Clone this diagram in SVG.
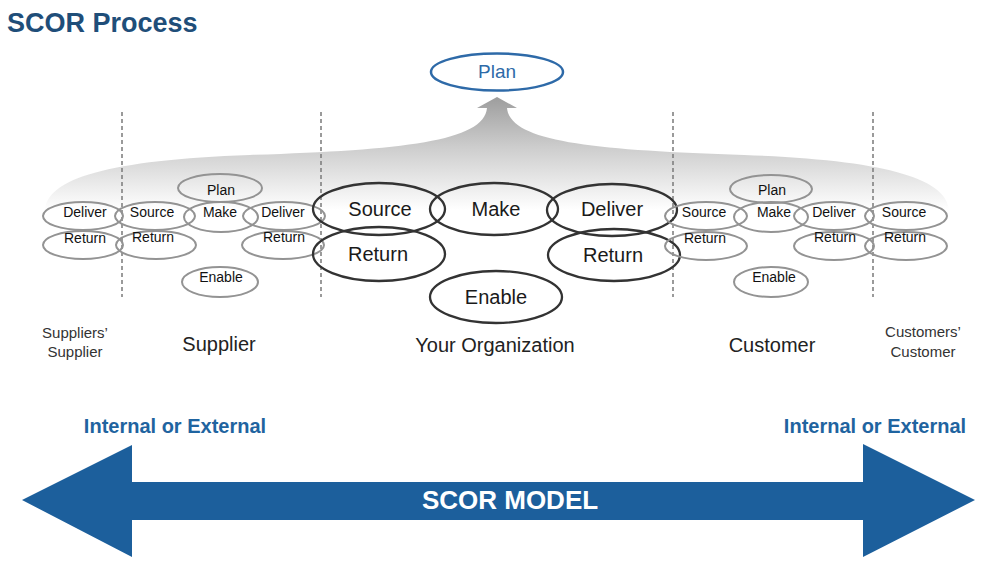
<svg xmlns="http://www.w3.org/2000/svg" width="1000" height="568" viewBox="0 0 1000 568">
<defs>
<linearGradient id="band" x1="0" y1="96" x2="0" y2="210" gradientUnits="userSpaceOnUse">
<stop offset="0" stop-color="#9c9c9c"/>
<stop offset="0.45" stop-color="#cdcdcd"/>
<stop offset="1" stop-color="#ffffff"/>
</linearGradient>
<style>
text{font-family:"Liberation Sans",Arial,sans-serif}
.title{font-size:27px;font-weight:bold;fill:#1f4e79}
.sm{fill:none;stroke:#939393;stroke-width:2}
.big{fill:none;stroke:#333;stroke-width:2.3}
.st{font-size:14px;fill:#111;text-anchor:middle}
.bt{font-size:20px;fill:#1a1a1a;text-anchor:middle}
.lbl{font-size:20px;fill:#222;text-anchor:middle}
.lbls{font-size:15px;fill:#333;text-anchor:middle}
.div{stroke:#7a7a7a;stroke-width:1.5;stroke-dasharray:4 3}
.ie{font-size:20px;font-weight:bold;fill:#1f64a0;text-anchor:middle}
</style>
</defs>
<rect width="1000" height="568" fill="#fff"/>
<text class="title" x="7" y="32">SCOR Process</text>

<g id="connectors">
<path d="M45,212 C45,178 110,160 250,155 C400,150 484,142 487,108 L477,108 L497,97 L517,108 L507,108 C510,142 594,150 744,155 C884,160 949,178 949,212 Z" fill="url(#band)"/>
</g>

<g id="dividers">
<line class="div" x1="122" y1="112" x2="122" y2="297"/>
<line class="div" x1="321" y1="112" x2="321" y2="297"/>
<line class="div" x1="673" y1="112" x2="673" y2="297"/>
<line class="div" x1="873" y1="112" x2="873" y2="297"/>
</g>

<g id="plan-top">
<ellipse cx="497" cy="72" rx="66" ry="18.5" fill="#fff" stroke="#2e6aa8" stroke-width="2.5"/>
<text x="497" y="78" font-size="19" fill="#2e6aa8" text-anchor="middle">Plan</text>
</g>

<g id="suppliers-supplier">
<ellipse class="sm" cx="83" cy="216" rx="40" ry="14"/>
<text class="st" x="85" y="217">Deliver</text>
<ellipse class="sm" cx="83" cy="245" rx="40" ry="14"/>
<text class="st" x="85" y="243">Return</text>
<text class="lbls" x="75" y="338">Suppliers’</text>
<text class="lbls" x="75" y="357">Supplier</text>
</g>

<g id="supplier">
<ellipse class="sm" cx="220" cy="188" rx="42" ry="14"/>
<text class="st" x="221" y="195">Plan</text>
<ellipse class="sm" cx="155" cy="216" rx="40" ry="14"/>
<text class="st" x="152" y="217">Source</text>
<ellipse class="sm" cx="156" cy="245" rx="40" ry="14"/>
<text class="st" x="153" y="242">Return</text>
<ellipse class="sm" cx="221" cy="217" rx="37" ry="15"/>
<text class="st" x="220" y="217">Make</text>
<ellipse class="sm" cx="284" cy="216" rx="41" ry="14"/>
<text class="st" x="283" y="217">Deliver</text>
<ellipse class="sm" cx="283" cy="245" rx="41" ry="14"/>
<text class="st" x="284" y="242">Return</text>
<ellipse class="sm" cx="220" cy="282" rx="38" ry="15"/>
<text class="st" x="221" y="282">Enable</text>
<text class="lbl" x="219" y="351">Supplier</text>
</g>

<g id="your-organization">
<ellipse class="big" cx="379" cy="209" rx="66" ry="26"/>
<text class="bt" x="380" y="216">Source</text>
<ellipse class="big" cx="494" cy="209" rx="64" ry="26"/>
<text class="bt" x="496" y="216">Make</text>
<ellipse class="big" cx="612" cy="210" rx="65" ry="26"/>
<text class="bt" x="612" y="216">Deliver</text>
<ellipse class="big" cx="379" cy="254" rx="66" ry="27"/>
<text class="bt" x="378" y="261">Return</text>
<ellipse class="big" cx="614" cy="255" rx="66" ry="26"/>
<text class="bt" x="613" y="262">Return</text>
<ellipse class="big" cx="496" cy="297" rx="66" ry="26"/>
<text class="bt" x="496" y="304">Enable</text>
<text class="lbl" x="495" y="352">Your Organization</text>
</g>

<g id="customer">
<ellipse class="sm" cx="771" cy="189" rx="41" ry="14"/>
<text class="st" x="772" y="195">Plan</text>
<ellipse class="sm" cx="706" cy="216" rx="41" ry="14"/>
<text class="st" x="704" y="217">Source</text>
<ellipse class="sm" cx="706" cy="246" rx="41" ry="14"/>
<text class="st" x="705" y="243">Return</text>
<ellipse class="sm" cx="771" cy="217" rx="37" ry="15"/>
<text class="st" x="774" y="217">Make</text>
<ellipse class="sm" cx="834" cy="216" rx="40" ry="14"/>
<text class="st" x="834" y="217">Deliver</text>
<ellipse class="sm" cx="834" cy="246" rx="40" ry="14"/>
<text class="st" x="835" y="242">Return</text>
<ellipse class="sm" cx="771" cy="282" rx="37" ry="15"/>
<text class="st" x="774" y="282">Enable</text>
<text class="lbl" x="772" y="352">Customer</text>
</g>

<g id="customers-customer">
<ellipse class="sm" cx="906" cy="216" rx="41" ry="14"/>
<text class="st" x="904" y="217">Source</text>
<ellipse class="sm" cx="906" cy="246" rx="41" ry="14"/>
<text class="st" x="905" y="242">Return</text>
<text class="lbls" x="923" y="337">Customers’</text>
<text class="lbls" x="923" y="357">Customer</text>
</g>

<g id="scor-model">
<text class="ie" x="175" y="433">Internal or External</text>
<text class="ie" x="875" y="433">Internal or External</text>
<path d="M22,500 L132,445 L132,482 L863,482 L863,444 L975,500 L863,557 L863,520 L132,520 L132,557 Z" fill="#1c5f9c"/>
<text x="510" y="509" font-size="26" font-weight="bold" fill="#fff" text-anchor="middle">SCOR MODEL</text>
</g>
</svg>
